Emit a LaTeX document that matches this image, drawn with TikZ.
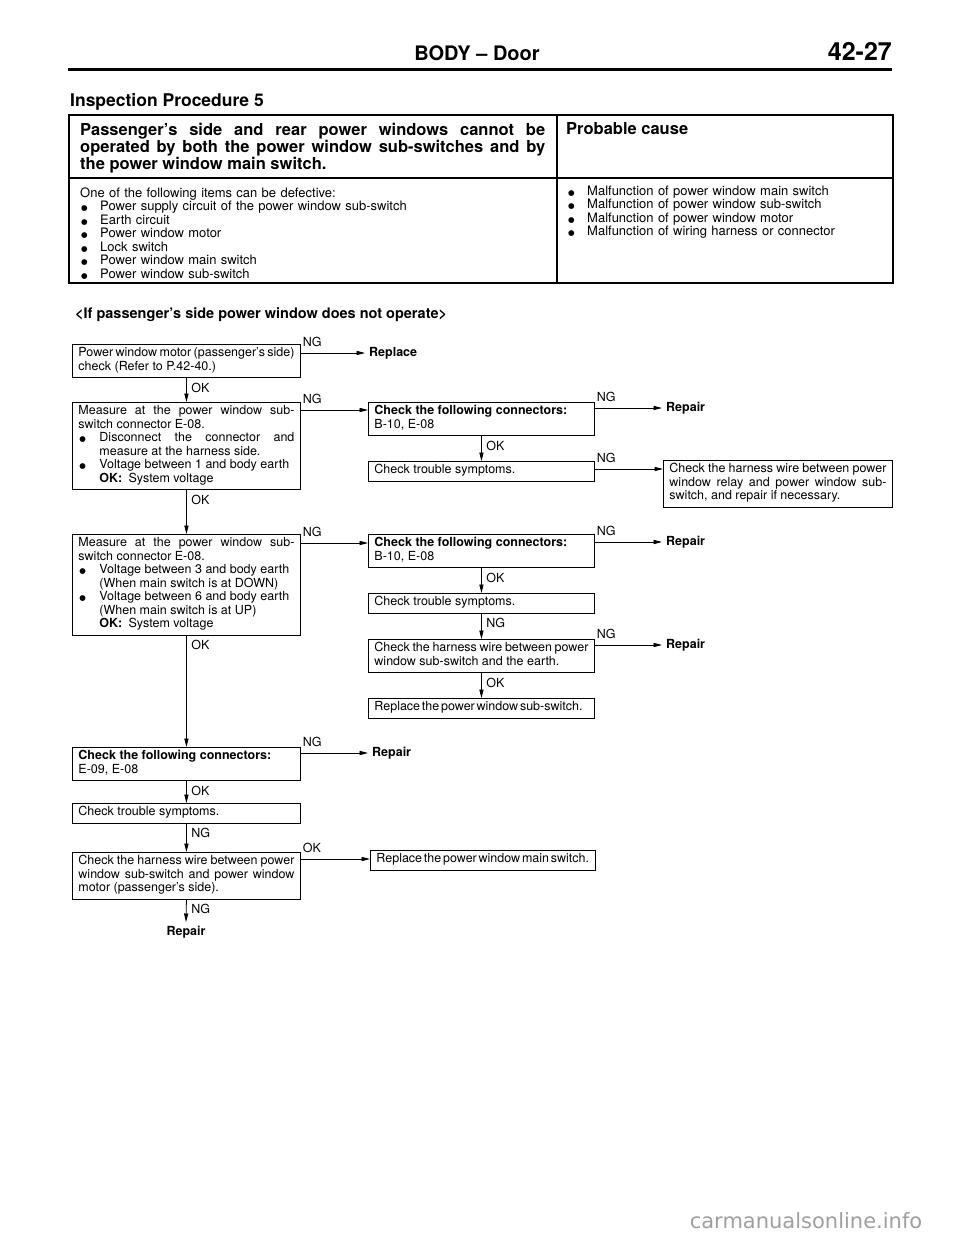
\documentclass[tikz,border=0pt]{standalone}
\usepackage{fontspec}
\setmainfont{TeX Gyre Heros}
\newfontfamily\wmfont{DejaVu Sans}
\usetikzlibrary{arrows.meta}

\newcommand{\boxfont}{\fontsize{12.5}{13.5}\selectfont}
\newcommand{\bpoint}[1][21pt]{\hangindent=#1\hangafter=1\makebox[#1][l]{\hspace{1pt}{\wmfont\fontsize{7.5}{7.5}\selectfont ●}}}
\newcommand{\hang}{\hspace*{21pt}}
\newcommand{\squeeze}[1]{{\spaceskip=1.8pt plus 2pt minus 1pt\relax #1}}

\begin{document}
\begin{tikzpicture}[x=1pt,y=-1pt,
    box/.style={draw,line width=0.9pt,anchor=north west,inner xsep=6pt,inner ysep=3pt,
        font=\boxfont,align=justify,execute at begin node={\tolerance=9999\strut},
        execute at end node=\strut},
    lbl/.style={font=\boxfont,inner sep=1.5pt},
    hlab/.style={lbl,pos=0,anchor=south west,yshift=4pt},
    vlab/.style={lbl,pos=0,anchor=north west,xshift=3pt,yshift=-3pt},
    term/.style={font=\boxfont\bfseries,inner sep=4pt},
    arr/.style={line width=0.8pt,-{Triangle[length=8.5pt,width=4.2pt]}}]
    \fill[white] (0,0) rectangle (960,1239);
    \useasboundingbox (0,0) rectangle (960,1239);

    % page head
    \node[anchor=base,inner sep=0,font=\fontsize{20}{20}\selectfont\bfseries] (title) at (477,61) {BODY -- Door};
    \node[anchor=base east,inner sep=0,font=\fontsize{25}{25}\selectfont\bfseries] (page) at (892,60) {42-27};
    \draw[line width=3pt] (68,70) -- (892,70);
    \node[anchor=base west,inner sep=0,font=\fontsize{17.5}{17.5}\selectfont\bfseries] (proc) at (70,106) {Inspection Procedure 5};

    % table
    \draw[line width=1.2pt] (69,115) rectangle (893,283);
    \draw[line width=1.2pt] (557,115) -- (557,283);
    \draw[line width=1.2pt] (69,178) -- (893,178);
    \node[anchor=base west,inner sep=0,text width=465pt,align=justify,font=\fontsize{16.5}{17}\selectfont\bfseries] (symptom) at (80,135)
        {Passenger's side and rear power windows cannot be\linebreak operated by both the power window sub-switches and by\linebreak the power window main switch.};
    \node[anchor=base west,inner sep=0,font=\fontsize{16.5}{17}\selectfont\bfseries] (cause) at (566,134) {Probable cause};
    \node[anchor=base west,inner sep=0,text width=470pt,font=\fontsize{13}{13.5}\selectfont] (items) at (80,197)
        {One of the following items can be defective:\par\bpoint[20pt]Power supply circuit of the power window sub-switch\par\bpoint[20pt]Earth circuit\par\bpoint[20pt]Power window motor\par\bpoint[20pt]Lock switch\par\bpoint[20pt]Power window main switch\par\bpoint[20pt]Power window sub-switch};
    \node[anchor=base west,inner sep=0,text width=315pt,font=\fontsize{13}{13.5}\selectfont] (causes) at (567,195)
        {\bpoint[20pt]Malfunction of power window main switch\par\bpoint[20pt]Malfunction of power window sub-switch\par\bpoint[20pt]Malfunction of power window motor\par\bpoint[20pt]Malfunction of wiring harness or connector};

    \node[anchor=base west,inner sep=0,font=\fontsize{14.5}{14.5}\selectfont\bfseries] (case) at (75,318) {<If passenger's side power window does not operate>};

    % flow chart boxes
    \node[box,text width=216pt] (A) at (72,344) {\squeeze{Power window motor (passenger's side)}\linebreak check (Refer to P.42-40.)};
    \node[box,text width=216pt] (B) at (72,402) {Measure at the power window sub-\linebreak switch connector E-08.\par\bpoint Disconnect the connector and\linebreak measure at the harness side.\par\bpoint Voltage between 1 and body earth\\\hang\textbf{OK:}\enspace System voltage};
    \node[box,text width=214pt] (C) at (368,402) {\textbf{Check the following connectors:}\\B-10, E-08};
    \node[box,text width=214pt] (D) at (368,461) {Check trouble symptoms.};
    \node[box,text width=217pt] (E) at (663,460) {\squeeze{Check the harness wire between power}\linebreak window relay and power window sub-\linebreak switch, and repair if necessary.};
    \node[box,text width=216pt] (F) at (72,534) {Measure at the power window sub-\linebreak switch connector E-08.\par\bpoint Voltage between 3 and body earth\\(When main switch is at DOWN)\par\bpoint Voltage between 6 and body earth\\\hang(When main switch is at UP)\\\hang\textbf{OK:}\enspace System voltage};
    \node[box,text width=214pt] (G) at (368,534) {\textbf{Check the following connectors:}\\B-10, E-08};
    \node[box,text width=214pt] (H) at (368,593) {Check trouble symptoms.};
    \node[box,text width=214pt] (I) at (368,639) {\squeeze{Check the harness wire between power}\linebreak window sub-switch and the earth.};
    \node[box,text width=214pt] (J) at (368,698) {\squeeze{Replace the power window sub-switch.}};
    \node[box,text width=216pt] (K) at (72,747) {\textbf{Check the following connectors:}\\E-09, E-08};
    \node[box,text width=216pt] (L) at (72,803) {Check trouble symptoms.};
    \node[box,text width=216pt] (M) at (72,852) {\squeeze{Check the harness wire between power}\linebreak window sub-switch and power window\linebreak motor (passenger's side).};
    \node[box,text width=213pt] (N) at (370,850) {\squeeze{Replace the power window main switch.}};

    % end points
    \node[term,anchor=west] (rep1) at (365,353) {Replace};
    \node[term,anchor=west] (rep2) at (662,408) {Repair};
    \node[term,anchor=west] (rep3) at (662,542) {Repair};
    \node[term,anchor=west] (rep4) at (662,645) {Repair};
    \node[term,anchor=west] (rep5) at (368,753) {Repair};
    \node[term,anchor=north] (rep6) at (186,922) {Repair};

    % connectors
    \coordinate (a1) at ([yshift=-9pt]A.north east);
    \coordinate (b1) at ([yshift=-8pt]B.north east);
    \coordinate (c1) at ([yshift=-6pt]C.north east);
    \coordinate (d1) at ([yshift=-8pt]D.north east);
    \coordinate (f1) at ([yshift=-9pt]F.north east);
    \coordinate (g1) at ([yshift=-8pt]G.north east);
    \coordinate (i1) at ([yshift=-6pt]I.north east);
    \coordinate (k1) at ([yshift=-6pt]K.north east);
    \coordinate (m1) at ([yshift=-7pt]M.north east);
    \draw[arr] (a1) -- (a1 -| rep1.west) node[hlab] {NG};
    \draw[arr] (b1) -- (b1 -| C.west) node[hlab] {NG};
    \draw[arr] (c1) -- (c1 -| rep2.west) node[hlab] {NG};
    \draw[arr] (d1) -- (d1 -| E.west) node[hlab] {NG};
    \draw[arr] (f1) -- (f1 -| G.west) node[hlab] {NG};
    \draw[arr] (g1) -- (g1 -| rep3.west) node[hlab] {NG};
    \draw[arr] (i1) -- (i1 -| rep4.west) node[hlab] {NG};
    \draw[arr] (k1) -- (k1 -| rep5.west) node[hlab] {NG};
    \draw[arr] (m1) -- (m1 -| N.west) node[hlab] {OK};

    \draw[arr] (A.south) -- (B.north) node[vlab] {OK};
    \draw[arr] (B.south) -- (F.north) node[vlab] {OK};
    \draw[arr] (F.south) -- (K.north) node[vlab] {OK};
    \draw[arr] (K.south) -- (L.north) node[vlab] {OK};
    \draw[arr] (L.south) -- (M.north) node[vlab] {NG};
    \draw[arr] (M.south) -- (rep6.north) node[vlab] {NG};
    \draw[arr] (C.south) -- (D.north) node[vlab] {OK};
    \draw[arr] (G.south) -- (H.north) node[vlab] {OK};
    \draw[arr] (H.south) -- (I.north) node[vlab] {NG};
    \draw[arr] (I.south) -- (J.north) node[vlab] {OK};

    \node[anchor=base,inner sep=0,text=gray!75,font=\wmfont\fontsize{21}{21}\selectfont] (wm) at (806,1228) {carmanualsonline.info};
\end{tikzpicture}
\end{document}
